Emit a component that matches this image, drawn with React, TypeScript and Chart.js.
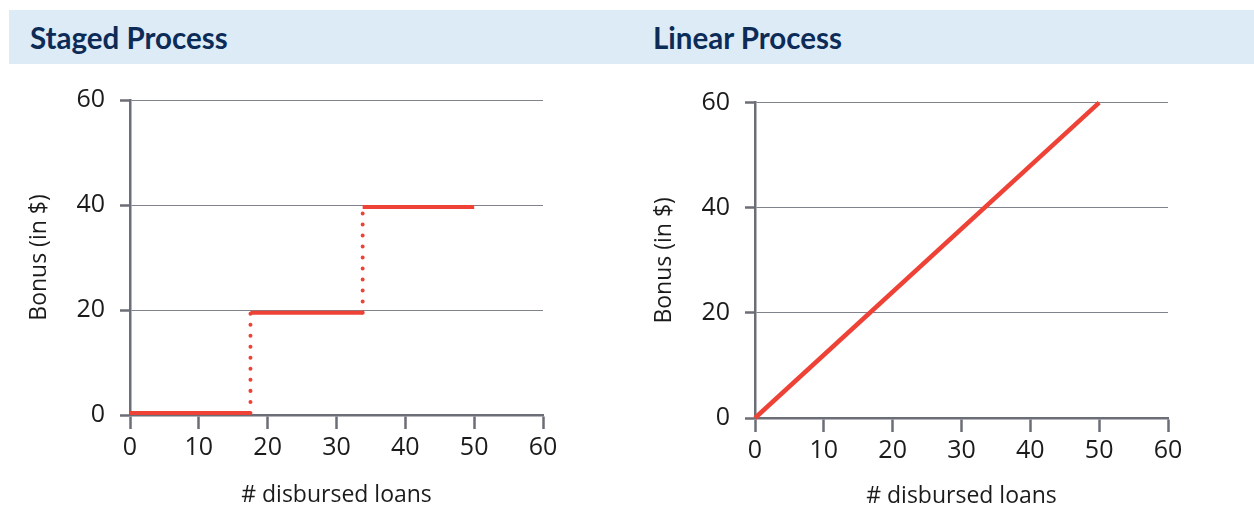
import React, { useEffect, useRef } from "react";
import { Chart, registerables } from "chart.js";

Chart.register(...registerables);

const panelTitles = ["Staged Process", "Linear Process"];
const xAxisTitle = "# disbursed loans";
const yAxisTitle = "Bonus (in $)";
const xTickValues = [0, 10, 20, 30, 40, 50, 60];
const yTickValues = [0, 20, 40, 60];

// Staged process: horizontal steps
const stepStarts = [0, 17.5, 33.8];
const stepEnds = [17.5, 33.8, 50];
const stepLevels = [0.4, 19.5, 39.6];

// Linear process
const linearX = [0, 50];
const linearY = [0, 60];

const RED = "#EE4236";
const AXIS = "#6b6e76";
const GRID = "#80838b";
const TEXT = "#1b1b1b";
const FONT = "'Open Sans', 'Noto Sans', sans-serif";

function makeOptions(padRight: number, padTop: number, xHeight: number, xTitlePad: number): any {
  return {
    animation: false,
    responsive: false,
    maintainAspectRatio: false,
    layout: { padding: { top: padTop, right: padRight, left: 0, bottom: 0 } },
    plugins: { legend: { display: false }, tooltip: { enabled: false }, title: { display: false } },
    scales: {
      x: {
        type: "linear",
        min: 0,
        max: 60,
        afterBuildTicks: (s: any) => {
          s.ticks = xTickValues.map((v) => ({ value: v }));
        },
        afterFit: (s: any) => {
          s.height = xHeight;
        },
        border: { display: true, color: AXIS, width: 2.5 },
        grid: {
          drawOnChartArea: false,
          drawTicks: true,
          tickLength: 14,
          tickWidth: 2.5,
          tickColor: AXIS,
        },
        ticks: {
          padding: 4,
          color: TEXT,
          font: { family: FONT, size: 25 },
          maxRotation: 0,
        },
        title: {
          display: true,
          text: xAxisTitle,
          color: TEXT,
          font: { family: FONT, size: 23, lineHeight: 1.0 },
          padding: { top: 0, bottom: xTitlePad },
        },
      },
      y: {
        type: "linear",
        min: 0,
        max: 60,
        afterBuildTicks: (s: any) => {
          s.ticks = yTickValues.map((v) => ({ value: v }));
        },
        afterFit: (s: any) => {
          s.width = 130;
        },
        border: { display: true, color: AXIS, width: 2.5 },
        grid: {
          drawOnChartArea: true,
          color: GRID,
          lineWidth: 1,
          drawTicks: true,
          tickLength: 10,
          tickWidth: 2.5,
          tickColor: AXIS,
        },
        ticks: {
          padding: 15,
          color: TEXT,
          font: { family: FONT, size: 25 },
        },
        title: {
          display: true,
          text: yAxisTitle,
          color: TEXT,
          font: { family: FONT, size: 23, lineHeight: 1.0 },
          padding: { top: 28, bottom: 0 },
        },
      },
    },
  };
}

function StagedChart() {
  const ref = useRef<HTMLCanvasElement | null>(null);
  useEffect(() => {
    if (!ref.current) return;
    const datasets: any[] = [];
    stepStarts.forEach((s, i) => {
      datasets.push({
        data: [
          { x: s, y: stepLevels[i] },
          { x: stepEnds[i], y: stepLevels[i] },
        ],
        borderColor: RED,
        borderWidth: 4,
        pointRadius: 0,
        borderCapStyle: "butt",
        clip: false,
      });
    });
    for (let i = 0; i < stepLevels.length - 1; i++) {
      datasets.push({
        data: [
          { x: stepEnds[i], y: stepLevels[i] },
          { x: stepEnds[i], y: stepLevels[i + 1] },
        ],
        borderColor: RED,
        borderWidth: 4,
        pointRadius: 0,
        borderCapStyle: "round",
        borderDash: [0.01, 11],
        clip: false,
      });
    }
    const chart = new Chart(ref.current, {
      type: "line",
      data: { datasets },
      options: makeOptions(77, 36, 93, 1.5),
    });
    return () => chart.destroy();
  }, []);
  return <canvas ref={ref} width={620} height={444} style={{ position: "absolute", left: 0, top: 64 }} />;
}

function LinearChart() {
  const ref = useRef<HTMLCanvasElement | null>(null);
  useEffect(() => {
    if (!ref.current) return;
    const chart = new Chart(ref.current, {
      type: "line",
      data: {
        datasets: [
          {
            data: linearX.map((x, i) => ({ x, y: linearY[i] })),
            borderColor: RED,
            borderWidth: 4.5,
            pointRadius: 0,
            borderCapStyle: "butt",
            clip: false,
          },
        ],
      },
      options: makeOptions(86, 38.7, 90, 0),
    });
    return () => chart.destroy();
  }, []);
  return <canvas ref={ref} width={629} height={444} style={{ position: "absolute", left: 625, top: 64 }} />;
}

export default function App() {
  const titleStyle: React.CSSProperties = {
    position: "absolute",
    top: 10,
    height: 54,
    lineHeight: "56px",
    fontFamily: "Lato, 'Open Sans', sans-serif",
    fontWeight: 700,
    fontSize: 29.5,
    color: "#0c2c57",
    whiteSpace: "nowrap",
  };
  return (
    <div style={{ position: "absolute", left: 0, top: 0, width: 1254, height: 508, background: "#fff", overflow: "hidden" }}>
      <div style={{ position: "absolute", left: 9, top: 10, width: 1245, height: 54, background: "#DDEBF7" }} />
      <div style={{ ...titleStyle, left: 30 }}>{panelTitles[0]}</div>
      <div style={{ ...titleStyle, left: 653 }}>{panelTitles[1]}</div>
      <StagedChart />
      <LinearChart />
    </div>
  );
}
